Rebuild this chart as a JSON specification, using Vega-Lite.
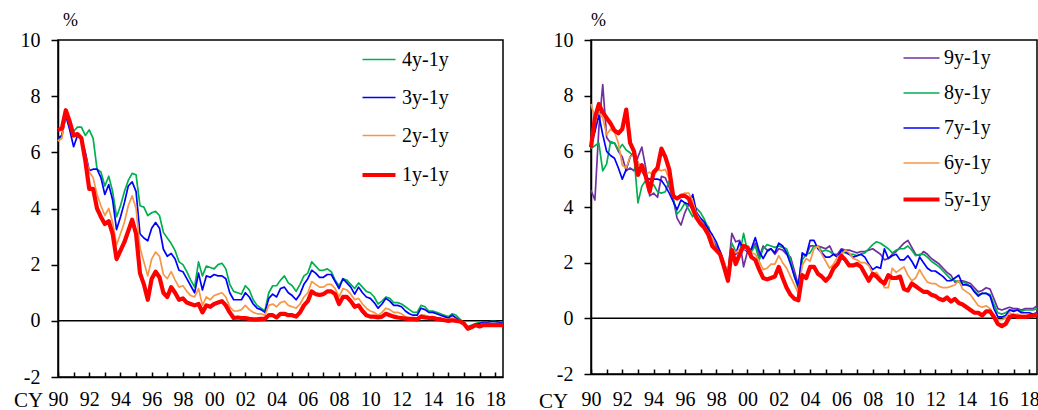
{
  "$schema": "https://vega.github.io/schema/vega-lite/v6.json",
  "background": "white",
  "padding": {"left": 12, "top": 10, "right": 1, "bottom": 1},
  "spacing": 88,
  "bounds": "flush",
  "config": {
    "font": "Liberation Serif",
    "view": {"stroke": "black", "strokeWidth": 1.5},
    "axis": {"labelFont": "Liberation Serif", "labelFontSize": 20, "labelColor": "black", "domainColor": "black", "domainWidth": 1.5, "tickColor": "black", "tickWidth": 1.5, "grid": false, "titleFont": "Liberation Serif", "titleFontWeight": "normal", "titleColor": "black", "labelOverlap": false, "labelFlush": false, "labelBound": false},
    "legend": {"labelFont": "Liberation Serif", "labelFontSize": 20, "labelColor": "black", "symbolType": "stroke", "padding": 0, "orient": "none"},
    "line": {"strokeJoin": "round"}
  },
  "datasets": {
    "left": [
      {"t":1990.00,"4y-1y":6.4,"3y-1y":6.5,"2y-1y":6.4,"1y-1y":6.8},
      {"t":1990.25,"4y-1y":6.6,"3y-1y":6.6,"2y-1y":6.5,"1y-1y":6.85},
      {"t":1990.50,"4y-1y":7.3,"3y-1y":7.3,"2y-1y":7.4,"1y-1y":7.5},
      {"t":1990.75,"4y-1y":7.0,"3y-1y":6.8,"2y-1y":7.0,"1y-1y":7.1},
      {"t":1991.00,"4y-1y":6.75,"3y-1y":6.2,"2y-1y":6.6,"1y-1y":6.6},
      {"t":1991.25,"4y-1y":6.9,"3y-1y":6.6,"2y-1y":6.6,"1y-1y":6.65},
      {"t":1991.50,"4y-1y":6.9,"3y-1y":6.5,"2y-1y":6.5,"1y-1y":6.5},
      {"t":1991.75,"4y-1y":6.6,"3y-1y":6.0,"2y-1y":5.9,"1y-1y":5.7},
      {"t":1992.00,"4y-1y":6.8,"3y-1y":5.35,"2y-1y":5.3,"1y-1y":4.7},
      {"t":1992.25,"4y-1y":6.5,"3y-1y":5.4,"2y-1y":5.1,"1y-1y":4.7},
      {"t":1992.50,"4y-1y":5.4,"3y-1y":5.4,"2y-1y":4.5,"1y-1y":4.0},
      {"t":1992.75,"4y-1y":5.3,"3y-1y":5.1,"2y-1y":4.1,"1y-1y":3.7},
      {"t":1993.00,"4y-1y":4.8,"3y-1y":4.5,"2y-1y":3.75,"1y-1y":3.45},
      {"t":1993.25,"4y-1y":5.15,"3y-1y":4.85,"2y-1y":4.0,"1y-1y":3.55},
      {"t":1993.50,"4y-1y":4.6,"3y-1y":4.3,"2y-1y":3.5,"1y-1y":3.1},
      {"t":1993.75,"4y-1y":3.7,"3y-1y":3.25,"2y-1y":2.7,"1y-1y":2.2},
      {"t":1994.00,"4y-1y":4.1,"3y-1y":3.7,"2y-1y":3.1,"1y-1y":2.5},
      {"t":1994.25,"4y-1y":4.6,"3y-1y":4.2,"2y-1y":3.5,"1y-1y":2.8},
      {"t":1994.50,"4y-1y":5.0,"3y-1y":4.8,"2y-1y":4.1,"1y-1y":3.2},
      {"t":1994.75,"4y-1y":5.25,"3y-1y":4.95,"2y-1y":4.45,"1y-1y":3.6},
      {"t":1995.00,"4y-1y":5.2,"3y-1y":4.6,"2y-1y":4.0,"1y-1y":3.1},
      {"t":1995.25,"4y-1y":4.1,"3y-1y":3.1,"2y-1y":2.6,"1y-1y":1.7},
      {"t":1995.50,"4y-1y":4.05,"3y-1y":2.95,"2y-1y":2.1,"1y-1y":1.3},
      {"t":1995.75,"4y-1y":3.75,"3y-1y":2.85,"2y-1y":1.6,"1y-1y":0.75},
      {"t":1996.00,"4y-1y":3.85,"3y-1y":3.3,"2y-1y":2.2,"1y-1y":1.5},
      {"t":1996.25,"4y-1y":3.9,"3y-1y":3.5,"2y-1y":2.45,"1y-1y":1.75},
      {"t":1996.50,"4y-1y":3.75,"3y-1y":3.3,"2y-1y":2.3,"1y-1y":1.55},
      {"t":1996.75,"4y-1y":3.15,"3y-1y":2.55,"2y-1y":1.65,"1y-1y":1.0},
      {"t":1997.00,"4y-1y":2.95,"3y-1y":2.3,"2y-1y":1.5,"1y-1y":0.85},
      {"t":1997.25,"4y-1y":2.75,"3y-1y":2.4,"2y-1y":1.75,"1y-1y":1.2},
      {"t":1997.50,"4y-1y":2.5,"3y-1y":2.2,"2y-1y":1.45,"1y-1y":1.0},
      {"t":1997.75,"4y-1y":2.1,"3y-1y":1.8,"2y-1y":1.2,"1y-1y":0.75},
      {"t":1998.00,"4y-1y":2.0,"3y-1y":1.75,"2y-1y":1.25,"1y-1y":0.8},
      {"t":1998.25,"4y-1y":1.75,"3y-1y":1.5,"2y-1y":1.05,"1y-1y":0.65},
      {"t":1998.50,"4y-1y":1.45,"3y-1y":1.25,"2y-1y":0.9,"1y-1y":0.6},
      {"t":1998.75,"4y-1y":1.2,"3y-1y":1.0,"2y-1y":0.85,"1y-1y":0.55},
      {"t":1999.00,"4y-1y":2.1,"3y-1y":1.7,"2y-1y":1.15,"1y-1y":0.6},
      {"t":1999.25,"4y-1y":1.6,"3y-1y":1.1,"2y-1y":0.55,"1y-1y":0.3},
      {"t":1999.50,"4y-1y":1.95,"3y-1y":1.6,"2y-1y":0.85,"1y-1y":0.55},
      {"t":1999.75,"4y-1y":1.9,"3y-1y":1.55,"2y-1y":0.75,"1y-1y":0.5},
      {"t":2000.00,"4y-1y":1.85,"3y-1y":1.65,"2y-1y":0.9,"1y-1y":0.6},
      {"t":2000.25,"4y-1y":2.0,"3y-1y":1.6,"2y-1y":0.95,"1y-1y":0.65},
      {"t":2000.50,"4y-1y":2.05,"3y-1y":1.6,"2y-1y":1.0,"1y-1y":0.7},
      {"t":2000.75,"4y-1y":1.85,"3y-1y":1.5,"2y-1y":0.85,"1y-1y":0.55},
      {"t":2001.00,"4y-1y":1.3,"3y-1y":1.0,"2y-1y":0.5,"1y-1y":0.3},
      {"t":2001.25,"4y-1y":1.05,"3y-1y":0.75,"2y-1y":0.35,"1y-1y":0.1},
      {"t":2001.50,"4y-1y":1.0,"3y-1y":0.75,"2y-1y":0.35,"1y-1y":0.12},
      {"t":2001.75,"4y-1y":0.95,"3y-1y":0.75,"2y-1y":0.4,"1y-1y":0.1},
      {"t":2002.00,"4y-1y":1.25,"3y-1y":1.0,"2y-1y":0.55,"1y-1y":0.1},
      {"t":2002.25,"4y-1y":1.1,"3y-1y":0.85,"2y-1y":0.4,"1y-1y":0.07},
      {"t":2002.50,"4y-1y":0.75,"3y-1y":0.6,"2y-1y":0.3,"1y-1y":0.05},
      {"t":2002.75,"4y-1y":0.55,"3y-1y":0.45,"2y-1y":0.25,"1y-1y":0.05},
      {"t":2003.00,"4y-1y":0.45,"3y-1y":0.4,"2y-1y":0.25,"1y-1y":0.07},
      {"t":2003.25,"4y-1y":0.35,"3y-1y":0.3,"2y-1y":0.2,"1y-1y":0.07},
      {"t":2003.50,"4y-1y":1.0,"3y-1y":0.8,"2y-1y":0.55,"1y-1y":0.2},
      {"t":2003.75,"4y-1y":1.25,"3y-1y":0.95,"2y-1y":0.6,"1y-1y":0.2},
      {"t":2004.00,"4y-1y":1.25,"3y-1y":0.85,"2y-1y":0.5,"1y-1y":0.12},
      {"t":2004.25,"4y-1y":1.45,"3y-1y":1.15,"2y-1y":0.65,"1y-1y":0.25},
      {"t":2004.50,"4y-1y":1.6,"3y-1y":1.2,"2y-1y":0.7,"1y-1y":0.25},
      {"t":2004.75,"4y-1y":1.35,"3y-1y":1.0,"2y-1y":0.55,"1y-1y":0.2},
      {"t":2005.00,"4y-1y":1.25,"3y-1y":0.9,"2y-1y":0.5,"1y-1y":0.2},
      {"t":2005.25,"4y-1y":1.05,"3y-1y":0.75,"2y-1y":0.45,"1y-1y":0.15},
      {"t":2005.50,"4y-1y":1.3,"3y-1y":0.95,"2y-1y":0.6,"1y-1y":0.3},
      {"t":2005.75,"4y-1y":1.6,"3y-1y":1.3,"2y-1y":0.85,"1y-1y":0.55},
      {"t":2006.00,"4y-1y":1.7,"3y-1y":1.5,"2y-1y":1.0,"1y-1y":0.7},
      {"t":2006.25,"4y-1y":2.1,"3y-1y":1.8,"2y-1y":1.4,"1y-1y":1.05},
      {"t":2006.50,"4y-1y":1.95,"3y-1y":1.7,"2y-1y":1.3,"1y-1y":0.95},
      {"t":2006.75,"4y-1y":1.8,"3y-1y":1.55,"2y-1y":1.2,"1y-1y":0.92},
      {"t":2007.00,"4y-1y":1.8,"3y-1y":1.55,"2y-1y":1.2,"1y-1y":0.95},
      {"t":2007.25,"4y-1y":1.85,"3y-1y":1.65,"2y-1y":1.3,"1y-1y":1.05},
      {"t":2007.50,"4y-1y":1.75,"3y-1y":1.65,"2y-1y":1.3,"1y-1y":1.05},
      {"t":2007.75,"4y-1y":1.45,"3y-1y":1.4,"2y-1y":1.15,"1y-1y":0.95},
      {"t":2008.00,"4y-1y":1.25,"3y-1y":1.15,"2y-1y":0.85,"1y-1y":0.6},
      {"t":2008.25,"4y-1y":1.5,"3y-1y":1.5,"2y-1y":1.15,"1y-1y":0.85},
      {"t":2008.50,"4y-1y":1.45,"3y-1y":1.35,"2y-1y":1.1,"1y-1y":0.85},
      {"t":2008.75,"4y-1y":1.3,"3y-1y":1.2,"2y-1y":0.95,"1y-1y":0.7},
      {"t":2009.00,"4y-1y":1.15,"3y-1y":0.95,"2y-1y":0.75,"1y-1y":0.5},
      {"t":2009.25,"4y-1y":1.35,"3y-1y":1.2,"2y-1y":0.8,"1y-1y":0.55},
      {"t":2009.50,"4y-1y":1.2,"3y-1y":1.0,"2y-1y":0.6,"1y-1y":0.35},
      {"t":2009.75,"4y-1y":1.05,"3y-1y":0.85,"2y-1y":0.45,"1y-1y":0.2},
      {"t":2010.00,"4y-1y":1.0,"3y-1y":0.8,"2y-1y":0.35,"1y-1y":0.15},
      {"t":2010.25,"4y-1y":0.85,"3y-1y":0.65,"2y-1y":0.3,"1y-1y":0.15},
      {"t":2010.50,"4y-1y":0.6,"3y-1y":0.45,"2y-1y":0.2,"1y-1y":0.12},
      {"t":2010.75,"4y-1y":0.7,"3y-1y":0.6,"2y-1y":0.3,"1y-1y":0.15},
      {"t":2011.00,"4y-1y":0.85,"3y-1y":0.8,"2y-1y":0.45,"1y-1y":0.25},
      {"t":2011.25,"4y-1y":0.8,"3y-1y":0.7,"2y-1y":0.4,"1y-1y":0.2},
      {"t":2011.50,"4y-1y":0.65,"3y-1y":0.55,"2y-1y":0.3,"1y-1y":0.15},
      {"t":2011.75,"4y-1y":0.65,"3y-1y":0.55,"2y-1y":0.3,"1y-1y":0.12},
      {"t":2012.00,"4y-1y":0.6,"3y-1y":0.5,"2y-1y":0.25,"1y-1y":0.1},
      {"t":2012.25,"4y-1y":0.5,"3y-1y":0.35,"2y-1y":0.15,"1y-1y":0.08},
      {"t":2012.50,"4y-1y":0.4,"3y-1y":0.25,"2y-1y":0.1,"1y-1y":0.07},
      {"t":2012.75,"4y-1y":0.3,"3y-1y":0.2,"2y-1y":0.1,"1y-1y":0.07},
      {"t":2013.00,"4y-1y":0.3,"3y-1y":0.2,"2y-1y":0.1,"1y-1y":0.05},
      {"t":2013.25,"4y-1y":0.55,"3y-1y":0.45,"2y-1y":0.2,"1y-1y":0.15},
      {"t":2013.50,"4y-1y":0.5,"3y-1y":0.4,"2y-1y":0.2,"1y-1y":0.12},
      {"t":2013.75,"4y-1y":0.35,"3y-1y":0.3,"2y-1y":0.15,"1y-1y":0.1},
      {"t":2014.00,"4y-1y":0.35,"3y-1y":0.3,"2y-1y":0.15,"1y-1y":0.1},
      {"t":2014.25,"4y-1y":0.3,"3y-1y":0.25,"2y-1y":0.1,"1y-1y":0.07},
      {"t":2014.50,"4y-1y":0.25,"3y-1y":0.2,"2y-1y":0.1,"1y-1y":0.05},
      {"t":2014.75,"4y-1y":0.2,"3y-1y":0.15,"2y-1y":0.05,"1y-1y":0.02},
      {"t":2015.00,"4y-1y":0.15,"3y-1y":0.1,"2y-1y":0.05,"1y-1y":0.0},
      {"t":2015.25,"4y-1y":0.25,"3y-1y":0.2,"2y-1y":0.1,"1y-1y":0.02},
      {"t":2015.50,"4y-1y":0.2,"3y-1y":0.1,"2y-1y":0.05,"1y-1y":0.0},
      {"t":2015.75,"4y-1y":0.05,"3y-1y":0.0,"2y-1y":0.0,"1y-1y":-0.02},
      {"t":2016.00,"4y-1y":-0.1,"3y-1y":-0.1,"2y-1y":-0.1,"1y-1y":-0.1},
      {"t":2016.25,"4y-1y":-0.2,"3y-1y":-0.25,"2y-1y":-0.25,"1y-1y":-0.28},
      {"t":2016.50,"4y-1y":-0.15,"3y-1y":-0.2,"2y-1y":-0.2,"1y-1y":-0.22},
      {"t":2016.75,"4y-1y":-0.1,"3y-1y":-0.12,"2y-1y":-0.15,"1y-1y":-0.15},
      {"t":2017.00,"4y-1y":-0.05,"3y-1y":-0.1,"2y-1y":-0.15,"1y-1y":-0.2},
      {"t":2017.25,"4y-1y":-0.05,"3y-1y":-0.05,"2y-1y":-0.1,"1y-1y":-0.15},
      {"t":2017.50,"4y-1y":-0.05,"3y-1y":-0.05,"2y-1y":-0.1,"1y-1y":-0.15},
      {"t":2017.75,"4y-1y":-0.02,"3y-1y":-0.03,"2y-1y":-0.1,"1y-1y":-0.15},
      {"t":2018.00,"4y-1y":-0.02,"3y-1y":-0.03,"2y-1y":-0.1,"1y-1y":-0.15},
      {"t":2018.25,"4y-1y":-0.05,"3y-1y":-0.05,"2y-1y":-0.1,"1y-1y":-0.15},
      {"t":2018.50,"4y-1y":-0.05,"3y-1y":-0.1,"2y-1y":-0.12,"1y-1y":-0.15}
    ],
    "right": [
      {"t":1990.00,"9y-1y":4.6,"8y-1y":6.1,"7y-1y":6.2,"6y-1y":7.7,"5y-1y":6.15},
      {"t":1990.25,"9y-1y":4.25,"8y-1y":6.2,"7y-1y":6.7,"6y-1y":7.2,"5y-1y":7.2},
      {"t":1990.50,"9y-1y":6.8,"8y-1y":6.3,"7y-1y":7.3,"6y-1y":7.4,"5y-1y":7.7},
      {"t":1990.75,"9y-1y":8.4,"8y-1y":5.3,"7y-1y":6.6,"6y-1y":7.2,"5y-1y":7.4},
      {"t":1991.00,"9y-1y":6.5,"8y-1y":5.55,"7y-1y":6.0,"6y-1y":6.6,"5y-1y":7.2},
      {"t":1991.25,"9y-1y":6.3,"8y-1y":6.35,"7y-1y":5.85,"6y-1y":6.8,"5y-1y":7.0},
      {"t":1991.50,"9y-1y":6.3,"8y-1y":6.3,"7y-1y":5.75,"6y-1y":6.7,"5y-1y":6.75},
      {"t":1991.75,"9y-1y":6.0,"8y-1y":6.05,"7y-1y":5.4,"6y-1y":6.3,"5y-1y":6.65},
      {"t":1992.00,"9y-1y":5.8,"8y-1y":6.25,"7y-1y":5.0,"6y-1y":5.5,"5y-1y":6.8},
      {"t":1992.25,"9y-1y":5.3,"8y-1y":6.05,"7y-1y":5.35,"6y-1y":5.4,"5y-1y":7.5},
      {"t":1992.50,"9y-1y":5.4,"8y-1y":5.95,"7y-1y":5.8,"6y-1y":5.8,"5y-1y":6.3},
      {"t":1992.75,"9y-1y":5.3,"8y-1y":5.8,"7y-1y":5.95,"6y-1y":5.9,"5y-1y":6.0},
      {"t":1993.00,"9y-1y":5.8,"8y-1y":4.15,"7y-1y":5.6,"6y-1y":5.6,"5y-1y":5.15},
      {"t":1993.25,"9y-1y":6.15,"8y-1y":4.75,"7y-1y":5.3,"6y-1y":5.3,"5y-1y":5.5},
      {"t":1993.50,"9y-1y":5.4,"8y-1y":4.95,"7y-1y":5.05,"6y-1y":5.2,"5y-1y":5.1},
      {"t":1993.75,"9y-1y":4.4,"8y-1y":4.7,"7y-1y":5.0,"6y-1y":5.25,"5y-1y":4.55},
      {"t":1994.00,"9y-1y":4.5,"8y-1y":4.8,"7y-1y":5.0,"6y-1y":5.1,"5y-1y":5.25},
      {"t":1994.25,"9y-1y":4.35,"8y-1y":4.55,"7y-1y":5.0,"6y-1y":5.35,"5y-1y":5.4},
      {"t":1994.50,"9y-1y":5.1,"8y-1y":4.5,"7y-1y":4.95,"6y-1y":5.3,"5y-1y":6.1},
      {"t":1994.75,"9y-1y":5.05,"8y-1y":4.55,"7y-1y":4.75,"6y-1y":5.35,"5y-1y":5.8},
      {"t":1995.00,"9y-1y":4.7,"8y-1y":4.95,"7y-1y":4.5,"6y-1y":5.0,"5y-1y":5.35},
      {"t":1995.25,"9y-1y":4.3,"8y-1y":4.3,"7y-1y":4.2,"6y-1y":4.4,"5y-1y":4.4},
      {"t":1995.50,"9y-1y":3.6,"8y-1y":3.75,"7y-1y":3.9,"6y-1y":4.35,"5y-1y":4.3},
      {"t":1995.75,"9y-1y":3.35,"8y-1y":3.9,"7y-1y":4.25,"6y-1y":4.45,"5y-1y":4.4},
      {"t":1996.00,"9y-1y":3.8,"8y-1y":4.15,"7y-1y":4.15,"6y-1y":4.5,"5y-1y":4.4},
      {"t":1996.25,"9y-1y":4.1,"8y-1y":3.9,"7y-1y":4.1,"6y-1y":4.5,"5y-1y":4.3},
      {"t":1996.50,"9y-1y":3.9,"8y-1y":3.65,"7y-1y":4.45,"6y-1y":4.2,"5y-1y":3.95},
      {"t":1996.75,"9y-1y":3.7,"8y-1y":3.95,"7y-1y":3.8,"6y-1y":3.75,"5y-1y":3.6},
      {"t":1997.00,"9y-1y":3.5,"8y-1y":3.8,"7y-1y":3.6,"6y-1y":3.5,"5y-1y":3.4},
      {"t":1997.25,"9y-1y":3.35,"8y-1y":3.55,"7y-1y":3.45,"6y-1y":3.3,"5y-1y":3.25},
      {"t":1997.50,"9y-1y":3.3,"8y-1y":3.25,"7y-1y":3.2,"6y-1y":3.1,"5y-1y":3.0},
      {"t":1997.75,"9y-1y":2.85,"8y-1y":2.65,"7y-1y":3.0,"6y-1y":2.9,"5y-1y":2.6},
      {"t":1998.00,"9y-1y":2.6,"8y-1y":2.55,"7y-1y":2.75,"6y-1y":2.4,"5y-1y":2.45},
      {"t":1998.25,"9y-1y":2.4,"8y-1y":2.3,"7y-1y":2.4,"6y-1y":2.3,"5y-1y":2.3},
      {"t":1998.50,"9y-1y":2.0,"8y-1y":2.0,"7y-1y":2.0,"6y-1y":2.05,"5y-1y":1.85},
      {"t":1998.75,"9y-1y":1.6,"8y-1y":1.6,"7y-1y":1.5,"6y-1y":1.55,"5y-1y":1.35},
      {"t":1999.00,"9y-1y":3.05,"8y-1y":2.7,"7y-1y":2.5,"6y-1y":2.5,"5y-1y":2.45},
      {"t":1999.25,"9y-1y":2.75,"8y-1y":2.4,"7y-1y":2.3,"6y-1y":2.35,"5y-1y":1.95},
      {"t":1999.50,"9y-1y":2.8,"8y-1y":2.3,"7y-1y":2.75,"6y-1y":2.5,"5y-1y":2.3},
      {"t":1999.75,"9y-1y":1.85,"8y-1y":3.05,"7y-1y":2.5,"6y-1y":2.5,"5y-1y":2.6},
      {"t":2000.00,"9y-1y":2.4,"8y-1y":2.4,"7y-1y":2.4,"6y-1y":2.45,"5y-1y":2.55},
      {"t":2000.25,"9y-1y":2.45,"8y-1y":2.4,"7y-1y":2.5,"6y-1y":2.35,"5y-1y":2.2},
      {"t":2000.50,"9y-1y":2.7,"8y-1y":2.6,"7y-1y":2.9,"6y-1y":2.3,"5y-1y":2.1},
      {"t":2000.75,"9y-1y":2.2,"8y-1y":2.1,"7y-1y":2.4,"6y-1y":2.05,"5y-1y":1.75},
      {"t":2001.00,"9y-1y":2.6,"8y-1y":2.5,"7y-1y":2.15,"6y-1y":1.75,"5y-1y":1.45},
      {"t":2001.25,"9y-1y":2.45,"8y-1y":2.65,"7y-1y":2.4,"6y-1y":1.8,"5y-1y":1.4},
      {"t":2001.50,"9y-1y":2.5,"8y-1y":2.6,"7y-1y":2.5,"6y-1y":1.95,"5y-1y":1.45},
      {"t":2001.75,"9y-1y":2.3,"8y-1y":2.55,"7y-1y":2.35,"6y-1y":1.95,"5y-1y":1.5},
      {"t":2002.00,"9y-1y":2.5,"8y-1y":2.6,"7y-1y":2.7,"6y-1y":2.25,"5y-1y":1.85},
      {"t":2002.25,"9y-1y":2.45,"8y-1y":2.55,"7y-1y":2.6,"6y-1y":2.0,"5y-1y":1.45},
      {"t":2002.50,"9y-1y":2.3,"8y-1y":2.5,"7y-1y":2.35,"6y-1y":1.8,"5y-1y":1.1},
      {"t":2002.75,"9y-1y":2.2,"8y-1y":2.1,"7y-1y":1.95,"6y-1y":1.5,"5y-1y":0.85},
      {"t":2003.00,"9y-1y":1.7,"8y-1y":1.5,"7y-1y":1.5,"6y-1y":1.2,"5y-1y":0.7},
      {"t":2003.25,"9y-1y":1.2,"8y-1y":1.05,"7y-1y":1.15,"6y-1y":0.9,"5y-1y":0.65},
      {"t":2003.50,"9y-1y":2.3,"8y-1y":2.1,"7y-1y":2.35,"6y-1y":1.9,"5y-1y":1.55},
      {"t":2003.75,"9y-1y":2.25,"8y-1y":2.3,"7y-1y":2.25,"6y-1y":2.15,"5y-1y":1.45},
      {"t":2004.00,"9y-1y":2.6,"8y-1y":2.35,"7y-1y":2.8,"6y-1y":2.05,"5y-1y":1.85},
      {"t":2004.25,"9y-1y":2.6,"8y-1y":2.6,"7y-1y":2.8,"6y-1y":2.5,"5y-1y":1.85},
      {"t":2004.50,"9y-1y":2.6,"8y-1y":2.6,"7y-1y":2.5,"6y-1y":2.6,"5y-1y":1.6},
      {"t":2004.75,"9y-1y":2.55,"8y-1y":2.4,"7y-1y":2.35,"6y-1y":2.3,"5y-1y":1.5},
      {"t":2005.00,"9y-1y":2.5,"8y-1y":2.45,"7y-1y":2.2,"6y-1y":2.05,"5y-1y":1.35},
      {"t":2005.25,"9y-1y":2.6,"8y-1y":2.4,"7y-1y":2.2,"6y-1y":1.8,"5y-1y":1.5},
      {"t":2005.50,"9y-1y":2.3,"8y-1y":2.3,"7y-1y":2.3,"6y-1y":1.95,"5y-1y":1.8},
      {"t":2005.75,"9y-1y":2.3,"8y-1y":2.2,"7y-1y":2.2,"6y-1y":2.2,"5y-1y":1.95},
      {"t":2006.00,"9y-1y":2.5,"8y-1y":2.4,"7y-1y":2.45,"6y-1y":2.3,"5y-1y":2.25},
      {"t":2006.25,"9y-1y":2.45,"8y-1y":2.35,"7y-1y":2.4,"6y-1y":2.45,"5y-1y":2.1},
      {"t":2006.50,"9y-1y":2.45,"8y-1y":2.3,"7y-1y":2.3,"6y-1y":2.35,"5y-1y":1.9},
      {"t":2006.75,"9y-1y":2.4,"8y-1y":2.3,"7y-1y":2.2,"6y-1y":2.15,"5y-1y":1.9},
      {"t":2007.00,"9y-1y":2.35,"8y-1y":2.25,"7y-1y":2.25,"6y-1y":2.1,"5y-1y":1.95},
      {"t":2007.25,"9y-1y":2.4,"8y-1y":2.3,"7y-1y":2.3,"6y-1y":2.0,"5y-1y":1.85},
      {"t":2007.50,"9y-1y":2.4,"8y-1y":2.35,"7y-1y":2.2,"6y-1y":2.0,"5y-1y":1.6},
      {"t":2007.75,"9y-1y":2.45,"8y-1y":2.5,"7y-1y":1.95,"6y-1y":1.9,"5y-1y":1.35},
      {"t":2008.00,"9y-1y":2.5,"8y-1y":2.65,"7y-1y":1.75,"6y-1y":1.6,"5y-1y":1.6},
      {"t":2008.25,"9y-1y":2.4,"8y-1y":2.75,"7y-1y":1.85,"6y-1y":1.65,"5y-1y":1.5},
      {"t":2008.50,"9y-1y":2.3,"8y-1y":2.7,"7y-1y":1.8,"6y-1y":1.45,"5y-1y":1.35},
      {"t":2008.75,"9y-1y":2.1,"8y-1y":2.6,"7y-1y":2.5,"6y-1y":1.1,"5y-1y":1.25},
      {"t":2009.00,"9y-1y":2.15,"8y-1y":2.5,"7y-1y":2.15,"6y-1y":1.1,"5y-1y":1.55},
      {"t":2009.25,"9y-1y":2.3,"8y-1y":2.35,"7y-1y":2.25,"6y-1y":1.8,"5y-1y":1.45},
      {"t":2009.50,"9y-1y":2.4,"8y-1y":2.45,"7y-1y":2.3,"6y-1y":1.65,"5y-1y":1.45},
      {"t":2009.75,"9y-1y":2.55,"8y-1y":2.5,"7y-1y":2.1,"6y-1y":1.75,"5y-1y":1.5},
      {"t":2010.00,"9y-1y":2.7,"8y-1y":2.5,"7y-1y":2.1,"6y-1y":1.85,"5y-1y":1.05},
      {"t":2010.25,"9y-1y":2.8,"8y-1y":2.6,"7y-1y":2.25,"6y-1y":1.55,"5y-1y":1.0},
      {"t":2010.50,"9y-1y":2.55,"8y-1y":2.45,"7y-1y":2.05,"6y-1y":1.35,"5y-1y":1.25},
      {"t":2010.75,"9y-1y":2.3,"8y-1y":2.25,"7y-1y":1.8,"6y-1y":1.45,"5y-1y":1.15},
      {"t":2011.00,"9y-1y":2.25,"8y-1y":2.3,"7y-1y":2.2,"6y-1y":1.75,"5y-1y":1.05},
      {"t":2011.25,"9y-1y":2.4,"8y-1y":2.3,"7y-1y":2.0,"6y-1y":1.5,"5y-1y":0.95},
      {"t":2011.50,"9y-1y":2.3,"8y-1y":2.2,"7y-1y":1.8,"6y-1y":1.3,"5y-1y":0.95},
      {"t":2011.75,"9y-1y":2.15,"8y-1y":2.05,"7y-1y":1.7,"6y-1y":1.25,"5y-1y":0.85},
      {"t":2012.00,"9y-1y":2.05,"8y-1y":1.95,"7y-1y":1.7,"6y-1y":1.25,"5y-1y":0.8},
      {"t":2012.25,"9y-1y":1.95,"8y-1y":1.85,"7y-1y":1.6,"6y-1y":1.15,"5y-1y":0.7},
      {"t":2012.50,"9y-1y":1.8,"8y-1y":1.7,"7y-1y":1.5,"6y-1y":1.1,"5y-1y":0.65},
      {"t":2012.75,"9y-1y":1.65,"8y-1y":1.55,"7y-1y":1.35,"6y-1y":1.1,"5y-1y":0.75},
      {"t":2013.00,"9y-1y":1.55,"8y-1y":1.4,"7y-1y":1.35,"6y-1y":1.15,"5y-1y":0.6},
      {"t":2013.25,"9y-1y":1.3,"8y-1y":1.35,"7y-1y":1.45,"6y-1y":1.2,"5y-1y":0.7},
      {"t":2013.50,"9y-1y":1.35,"8y-1y":1.3,"7y-1y":1.55,"6y-1y":1.35,"5y-1y":0.55},
      {"t":2013.75,"9y-1y":1.35,"8y-1y":1.3,"7y-1y":1.2,"6y-1y":1.05,"5y-1y":0.5},
      {"t":2014.00,"9y-1y":1.3,"8y-1y":1.25,"7y-1y":1.2,"6y-1y":0.95,"5y-1y":0.4},
      {"t":2014.25,"9y-1y":1.25,"8y-1y":1.15,"7y-1y":1.15,"6y-1y":0.85,"5y-1y":0.3},
      {"t":2014.50,"9y-1y":1.1,"8y-1y":1.0,"7y-1y":0.95,"6y-1y":0.65,"5y-1y":0.2},
      {"t":2014.75,"9y-1y":0.95,"8y-1y":0.85,"7y-1y":0.8,"6y-1y":0.45,"5y-1y":0.2},
      {"t":2015.00,"9y-1y":1.0,"8y-1y":0.9,"7y-1y":0.9,"6y-1y":0.4,"5y-1y":0.1},
      {"t":2015.25,"9y-1y":1.1,"8y-1y":0.9,"7y-1y":0.9,"6y-1y":0.45,"5y-1y":0.25},
      {"t":2015.50,"9y-1y":1.05,"8y-1y":0.85,"7y-1y":0.8,"6y-1y":0.35,"5y-1y":0.25},
      {"t":2015.75,"9y-1y":0.7,"8y-1y":0.5,"7y-1y":0.35,"6y-1y":0.1,"5y-1y":0.05},
      {"t":2016.00,"9y-1y":0.35,"8y-1y":0.2,"7y-1y":0.05,"6y-1y":-0.05,"5y-1y":-0.2},
      {"t":2016.25,"9y-1y":0.3,"8y-1y":0.15,"7y-1y":0.05,"6y-1y":-0.05,"5y-1y":-0.28},
      {"t":2016.50,"9y-1y":0.35,"8y-1y":0.2,"7y-1y":0.1,"6y-1y":0.0,"5y-1y":-0.2},
      {"t":2016.75,"9y-1y":0.4,"8y-1y":0.3,"7y-1y":0.3,"6y-1y":0.2,"5y-1y":0.05},
      {"t":2017.00,"9y-1y":0.35,"8y-1y":0.3,"7y-1y":0.25,"6y-1y":0.1,"5y-1y":0.1},
      {"t":2017.25,"9y-1y":0.35,"8y-1y":0.3,"7y-1y":0.3,"6y-1y":0.15,"5y-1y":0.05},
      {"t":2017.50,"9y-1y":0.3,"8y-1y":0.25,"7y-1y":0.2,"6y-1y":0.1,"5y-1y":0.05},
      {"t":2017.75,"9y-1y":0.35,"8y-1y":0.3,"7y-1y":0.2,"6y-1y":0.1,"5y-1y":0.05},
      {"t":2018.00,"9y-1y":0.35,"8y-1y":0.3,"7y-1y":0.2,"6y-1y":0.1,"5y-1y":0.08},
      {"t":2018.25,"9y-1y":0.35,"8y-1y":0.3,"7y-1y":0.15,"6y-1y":0.1,"5y-1y":0.1},
      {"t":2018.50,"9y-1y":0.45,"8y-1y":0.35,"7y-1y":0.2,"6y-1y":0.15,"5y-1y":0.15}
    ]
  },
  "hconcat": [
    {
      "width": 445,
      "height": 337,
      "layer": [
        {
          "data": {"values": [{}]},
          "mark": {"type": "rule", "color": "black", "strokeWidth": 1.5},
          "encoding": {"y": {"datum": 0, "type": "quantitative", "scale": {"domain": [-2, 10], "nice": false}}}
        },
        {
          "data": {"name": "left"},
          "transform": [{"fold": ["4y-1y", "3y-1y", "2y-1y", "1y-1y"], "as": ["series", "value"]}],
          "mark": {"type": "line"},
          "encoding": {
            "x": {"field": "t", "type": "quantitative", "scale": {"domain": [1990, 2018.5], "nice": false, "zero": false},
              "axis": {"values": [1990,1991,1992,1993,1994,1995,1996,1997,1998,1999,2000,2001,2002,2003,2004,2005,2006,2007,2008,2009,2010,2011,2012,2013,2014,2015,2016,2017,2018],
                "format": "d", "labelExpr": "datum.value % 2 == 0 ? substring(datum.label, 2) : ''",
                "tickSize": -5, "labelPadding": 17,
                "title": "CY", "titleFontSize": 21, "titleX": -30, "titleY": 23, "titleAlign": "center", "titleBaseline": "middle", "titleAngle": 0}},
            "y": {"field": "value", "type": "quantitative", "scale": {"domain": [-2, 10], "nice": false},
              "axis": {"values": [-2, 0, 2, 4, 6, 8, 10], "labelExpr": "'' + datum.value", "tickSize": 7, "labelPadding": 11,
                "title": "%", "titleFontSize": 18, "titleAngle": 0, "titleX": 12, "titleY": -20, "titleAlign": "center", "titleBaseline": "middle"}},
            "color": {"field": "series", "type": "nominal",
              "scale": {"domain": ["4y-1y", "3y-1y", "2y-1y", "1y-1y"], "range": ["#00B050", "#0000FF", "#F79646", "#FF0000"]},
              "legend": {"title": null, "orient": "none", "legendX": 302, "legendY": 2, "symbolSize": 1089, "rowPadding": 10, "labelOffset": 4}},
            "strokeWidth": {"field": "series", "type": "nominal",
              "scale": {"type": "ordinal", "domain": ["4y-1y", "3y-1y", "2y-1y", "1y-1y"], "range": [1.7, 1.7, 1.7, 4.2]},
              "legend": {"title": null, "orient": "none", "legendX": 302, "legendY": 2, "symbolSize": 1089, "rowPadding": 10, "labelOffset": 4}}
          }
        }
      ]
    },
    {
      "width": 446,
      "height": 334,
      "layer": [
        {
          "data": {"values": [{}]},
          "mark": {"type": "rule", "color": "black", "strokeWidth": 1.5},
          "encoding": {"y": {"datum": 0, "type": "quantitative", "scale": {"domain": [-2, 10], "nice": false}}}
        },
        {
          "data": {"name": "right"},
          "transform": [{"fold": ["9y-1y", "8y-1y", "7y-1y", "6y-1y", "5y-1y"], "as": ["series", "value"]}],
          "mark": {"type": "line"},
          "encoding": {
            "x": {"field": "t", "type": "quantitative", "scale": {"domain": [1990, 2018.5], "nice": false, "zero": false},
              "axis": {"values": [1990,1991,1992,1993,1994,1995,1996,1997,1998,1999,2000,2001,2002,2003,2004,2005,2006,2007,2008,2009,2010,2011,2012,2013,2014,2015,2016,2017,2018],
                "format": "d", "labelExpr": "datum.value % 2 == 0 ? substring(datum.label, 2) : ''",
                "tickSize": -5, "labelPadding": 20,
                "title": "CY", "titleFontSize": 21, "titleX": -38, "titleY": 27, "titleAlign": "center", "titleBaseline": "middle", "titleAngle": 0}},
            "y": {"field": "value", "type": "quantitative", "scale": {"domain": [-2, 10], "nice": false},
              "axis": {"values": [-2, 0, 2, 4, 6, 8, 10], "labelExpr": "'' + datum.value", "tickSize": 7, "labelPadding": 11,
                "title": "%", "titleFontSize": 18, "titleAngle": 0, "titleX": 7, "titleY": -20, "titleAlign": "center", "titleBaseline": "middle"}},
            "color": {"field": "series", "type": "nominal",
              "scale": {"domain": ["9y-1y", "8y-1y", "7y-1y", "6y-1y", "5y-1y"], "range": ["#7030A0", "#00B050", "#0000FF", "#F79646", "#FF0000"]},
              "legend": {"title": null, "orient": "none", "legendX": 310, "legendY": -1, "symbolSize": 1296, "rowPadding": 6, "labelOffset": 2}},
            "strokeWidth": {"field": "series", "type": "nominal",
              "scale": {"type": "ordinal", "domain": ["9y-1y", "8y-1y", "7y-1y", "6y-1y", "5y-1y"], "range": [1.7, 1.7, 1.7, 1.7, 4.2]},
              "legend": {"title": null, "orient": "none", "legendX": 310, "legendY": -1, "symbolSize": 1296, "rowPadding": 6, "labelOffset": 2}}
          }
        }
      ]
    }
  ],
  "resolve": {
    "scale": {"color": "independent", "strokeWidth": "independent", "x": "independent", "y": "independent"},
    "legend": {"color": "independent", "strokeWidth": "independent"}
  }
}
